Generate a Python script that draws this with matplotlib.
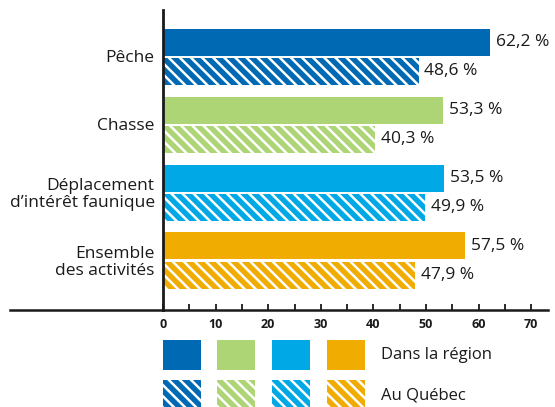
import matplotlib
matplotlib.use("Agg")
import matplotlib.pyplot as plt
from matplotlib import font_manager
from matplotlib.patches import Rectangle
from matplotlib.lines import Line2D

# --- DONNEES ---
categories = ["Pêche", "Chasse", "Déplacement\nd\u2019intérêt faunique", "Ensemble\ndes activités"]
region = [62.2, 53.3, 53.5, 57.5]
quebec = [48.6, 40.3, 49.9, 47.9]
colors = ["#0069b4", "#add475", "#00a9e6", "#f0ac00"]
legend_labels = ["Dans la région", "Au Québec"]
xticks = list(range(0, 71, 10))

installed = {f.name for f in font_manager.fontManager.ttflist}
fam = [f for f in ["Liberation Sans Narrow", "Open Sans", "DejaVu Sans"] if f in installed]
plt.rcParams["font.family"] = fam
plt.rcParams["hatch.linewidth"] = 1.8
TXT = "#1a1a1a"
HATCH = "\\\\\\"

W, H = 555, 407
fig = plt.figure(figsize=(W / 100, H / 100), dpi=100)
ax = fig.add_axes([163 / W, 1 - 310 / H, (548 - 163) / W, 300 / H])

bh = 27 / 68
off = 14.5 / 68
for i, (r, q, c) in enumerate(zip(region, quebec, colors)):
    ax.barh(i - off, r, height=bh, color=c, linewidth=0)
    ax.barh(i + off, q, height=bh, color=c, edgecolor="white", hatch=HATCH, linewidth=0)
    ax.annotate(f"{r:.1f} %".replace(".", ","), (r, i - off), xytext=(4, 0),
                textcoords="offset points", va="center", ha="left", fontsize=12.5, color=TXT)
    ax.annotate(f"{q:.1f} %".replace(".", ","), (q, i + off), xytext=(4, 0),
                textcoords="offset points", va="center", ha="left", fontsize=12.5, color=TXT)

ax.set_xlim(0, (548 - 163) / 5.26)
ax.set_ylim(3 + (310 - 260.5) / 68, -(56.5 - 10) / 68)
ax.set_yticks(range(len(categories)))
ax.set_yticklabels(categories, fontsize=12.5, color=TXT, linespacing=1.05)
ax.tick_params(axis="y", length=0, pad=6)
ax.set_xticks(xticks)
ax.set_xticks(range(5, 71, 10), minor=True)
ax.tick_params(axis="x", which="both", direction="in", length=4, width=1.3, color=TXT,
               labelsize=9, labelcolor=TXT, pad=6)
for lab in ax.get_xticklabels():
    lab.set_fontweight("bold")
for s in ["top", "right"]:
    ax.spines[s].set_visible(False)
ax.spines["left"].set_linewidth(2)
ax.spines["bottom"].set_linewidth(1.8)
ax.spines["left"].set_color(TXT)
ax.spines["bottom"].set_color(TXT)

# prolongement de l'axe horizontal a gauche
fig.add_artist(Line2D([10 / W, 163 / W], [1 - 310 / H] * 2, color=TXT, lw=1.8))

# legende
box_x = [163, 217, 272, 327]
for row, (ytop, lab) in enumerate(zip([340, 380], legend_labels)):
    for x0, c in zip(box_x, colors):
        kw = dict(facecolor=c, linewidth=0)
        if row == 1:
            kw.update(edgecolor="white", hatch=HATCH)
        fig.add_artist(Rectangle((x0 / W, 1 - (ytop + 30) / H), 38 / W, 30 / H,
                                 transform=fig.transFigure, **kw))
    fig.text(381 / W, 1 - (ytop + 15) / H, lab, fontsize=12, color=TXT, va="center", ha="left")

fig.savefig("out.png", dpi=100)
